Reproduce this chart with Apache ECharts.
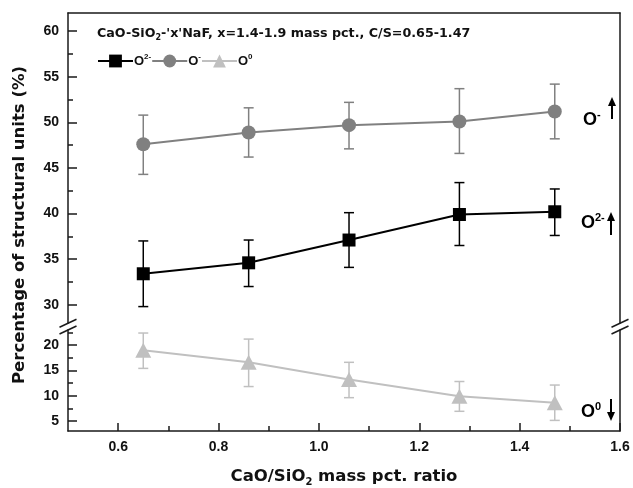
<!DOCTYPE html>
<html>
<head>
<meta charset="utf-8">
<script src="https://cdn.jsdelivr.net/npm/echarts@6/dist/echarts.min.js"></script>
<style>
html,body{margin:0;padding:0;background:#fff;}
#chart{width:633px;height:488px;}
</style>
</head>
<body>
<div id="chart"></div>
<script>
// ---- data ----
const xValues = [0.65, 0.86, 1.06, 1.28, 1.47];

const o2Mean = [33.4, 34.6, 37.1, 39.9, 40.2];
const o2Low  = [29.8, 32.0, 34.1, 36.5, 37.6];
const o2High = [37.0, 37.1, 40.1, 43.4, 42.7];

const o1Mean = [47.6, 48.9, 49.7, 50.1, 51.2];
const o1Low  = [44.3, 46.2, 47.1, 46.6, 48.2];
const o1High = [50.8, 51.6, 52.2, 53.7, 54.2];

const o0Mean = [19.0, 16.6, 13.2, 9.9, 8.6];
const o0Low  = [15.4, 11.8, 9.6, 6.9, 5.1];
const o0High = [22.4, 21.2, 16.6, 12.8, 12.1];

const xTicks = [0.6, 0.8, 1.0, 1.2, 1.4, 1.6];
const xMinorTicks = [0.7, 0.9, 1.1, 1.3, 1.5];
const upperTicks = [30, 35, 40, 45, 50, 55, 60];
const upperMinor = [32.5, 37.5, 42.5, 47.5, 52.5, 57.5];
const lowerTicks = [5, 10, 15, 20];
const lowerMinor = [7.5, 12.5, 17.5, 22.5];

const FONT = "'Liberation Sans', Arial, sans-serif";
const WIDE = "'DejaVu Sans', 'Liberation Sans', sans-serif";
const AX = '#1a1a1a';
const C_O2 = '#000000', C_O1 = '#808080', C_O0 = '#c0c0c0';

const chart = echarts.init(document.getElementById('chart'), null, {renderer: 'canvas'});

function pairs(m){ return xValues.map((x,i)=>[x, m[i]]); }
function errData(lo, hi){ return xValues.map((x,i)=>[x, lo[i], hi[i]]); }
function errRender(color){
  return function(params, api){
    const x = api.value(0);
    const a = api.coord([x, api.value(1)]);
    const b = api.coord([x, api.value(2)]);
    const w = 5;
    const st = {stroke: color, lineWidth: 1.5};
    return {type:'group', children:[
      {type:'line', shape:{x1:a[0],y1:a[1],x2:b[0],y2:b[1]}, style:st},
      {type:'line', shape:{x1:a[0]-w,y1:a[1],x2:a[0]+w,y2:a[1]}, style:st},
      {type:'line', shape:{x1:b[0]-w,y1:b[1],x2:b[0]+w,y2:b[1]}, style:st}
    ]};
  };
}

const lineAx = {show:true, lineStyle:{color:AX, width:1.5}};
function yMain(grid, min, max, ticks){
  return {type:'value', gridIndex:grid, min:min, max:max, position:'left',
    axisLine:lineAx, splitLine:{show:false},
    axisTick:{show:true, inside:true, length:9, lineStyle:{color:AX, width:1.5}, customValues:ticks},
    axisLabel:{show:true, customValues:ticks, margin:9, color:'#111', fontFamily:FONT, fontWeight:'bold', fontSize:14}};
}
function yMinor(grid, min, max, ticks){
  return {type:'value', gridIndex:grid, min:min, max:max, position:'left',
    axisLine:{show:false}, splitLine:{show:false}, axisLabel:{show:false},
    axisTick:{show:true, inside:true, length:5, lineStyle:{color:AX, width:1.5}, customValues:ticks}};
}
function yRight(grid, min, max){
  return {type:'value', gridIndex:grid, min:min, max:max, position:'right',
    axisLine:lineAx, splitLine:{show:false}, axisLabel:{show:false}, axisTick:{show:false}};
}

const supRich = {
  b:{fontFamily:FONT, fontWeight:'bold', fontSize:13, color:'#111', lineHeight:16},
  s:{fontFamily:FONT, fontWeight:'bold', fontSize:8, color:'#111', lineHeight:16, verticalAlign:'top', padding:[0,0,6,0]}
};
const legendNames = {'O2-':'{b|O}{s|2-}', 'O-':'{b|O}{s|-}', 'O0':'{b|O}{s|0}'};

function arrow(x, yTip, yTail){
  const dir = yTail > yTip ? 1 : -1;
  return [
    {type:'line', shape:{x1:x, y1:yTip + dir*6, x2:x, y2:yTail}, style:{stroke:'#000', lineWidth:2}},
    {type:'polygon', shape:{points:[[x, yTip],[x-4, yTip + dir*9],[x+4, yTip + dir*9]]}, style:{fill:'#000'}}
  ];
}
function breakMarks(x){
  return [
    {type:'rect', shape:{x:x-2, y:323.5, width:4, height:6.5}, style:{fill:'#fff'}},
    {type:'line', shape:{x1:x-8.5, y1:327.3, x2:x+8.5, y2:319.3}, style:{stroke:AX, lineWidth:1.5}},
    {type:'line', shape:{x1:x-8.5, y1:334, x2:x+8.5, y2:326}, style:{stroke:AX, lineWidth:1.5}}
  ];
}
function sideLabel(x, y, sup){
  return {type:'text', x:x, y:y, style:{
    text:'{b|O}{s|' + sup + '}', textVerticalAlign:'middle',
    rich:{
      b:{fontFamily:FONT, fontWeight:'bold', fontSize:18, fill:'#000', lineHeight:22},
      s:{fontFamily:FONT, fontWeight:'bold', fontSize:11, fill:'#000', lineHeight:22, verticalAlign:'top', padding:[0,0,9,0]}
    }}};
}

const option = {
  animation:false,
  backgroundColor:'#fff',
  title:{
    text:"{t|CaO-SiO}{sub|2}{t|-'x'NaF, x=1.4-1.9 mass pct., C/S=0.65-1.47}",
    left:97, top:26, padding:0,
    textStyle:{rich:{
      t:{fontFamily:WIDE, fontWeight:'bold', fontSize:12.7, color:'#111', lineHeight:16},
      sub:{fontFamily:WIDE, fontWeight:'bold', fontSize:8, color:'#111', lineHeight:16, verticalAlign:'bottom', padding:[6,0,0,0]}
    }}
  },
  legend:{
    data:['O2-','O-','O0'], left:97, top:53, padding:0,
    itemWidth:35, itemHeight:16, itemGap:0,
    formatter:function(n){ return legendNames[n]; },
    textStyle:{padding:[0,0,0,-4], rich:supRich}
  },
  grid:[
    {left:68, right:13, top:13, height:310},
    {left:68, right:13, top:330, height:102}
  ],
  xAxis:[
    {type:'value', gridIndex:0, min:0.5, max:1.6, position:'top',
      axisLine:lineAx, axisTick:{show:false}, axisLabel:{show:false}, splitLine:{show:false}},
    {type:'value', gridIndex:1, min:0.5, max:1.6, position:'bottom',
      axisLine:lineAx, splitLine:{show:false},
      axisTick:{show:true, inside:true, length:8, lineStyle:{color:AX, width:1.5}, customValues:xTicks},
      axisLabel:{show:true, customValues:xTicks, margin:9, color:'#111', fontFamily:FONT, fontWeight:'bold', fontSize:14,
        formatter:function(v){ return v.toFixed(1); }},
      name:'{t|CaO/SiO}{sub|2}{t| mass pct. ratio}', nameLocation:'middle', nameGap:36,
      nameTextStyle:{rich:{
        t:{fontFamily:WIDE, fontWeight:'bold', fontSize:16.5, color:'#111', lineHeight:20},
        sub:{fontFamily:WIDE, fontWeight:'bold', fontSize:10, color:'#111', lineHeight:20, verticalAlign:'bottom', padding:[7,0,0,0]}
      }}},
    {type:'value', gridIndex:1, min:0.5, max:1.6, position:'bottom',
      axisLine:{show:false}, splitLine:{show:false}, axisLabel:{show:false},
      axisTick:{show:true, inside:true, length:5, lineStyle:{color:AX, width:1.5}, customValues:xMinorTicks}}
  ],
  yAxis:[
    yMain(0, 28, 62, upperTicks),
    yMinor(0, 28, 62, upperMinor),
    yRight(0, 28, 62),
    yMain(1, 3, 23, lowerTicks),
    yMinor(1, 3, 23, lowerMinor),
    yRight(1, 3, 23)
  ],
  series:[
    {type:'custom', name:'errO2', xAxisIndex:0, yAxisIndex:0, data:errData(o2Low, o2High), renderItem:errRender(C_O2), encode:{x:0, y:[1,2]}, z:1, silent:true},
    {type:'custom', name:'errO1', xAxisIndex:0, yAxisIndex:0, data:errData(o1Low, o1High), renderItem:errRender(C_O1), encode:{x:0, y:[1,2]}, z:1, silent:true},
    {type:'custom', name:'errO0', xAxisIndex:1, yAxisIndex:3, data:errData(o0Low, o0High), renderItem:errRender(C_O0), encode:{x:0, y:[1,2]}, z:1, silent:true},
    {type:'line', name:'O2-', xAxisIndex:0, yAxisIndex:0, data:pairs(o2Mean),
      symbol:'rect', symbolSize:13, itemStyle:{color:C_O2}, lineStyle:{color:C_O2, width:2}, z:3},
    {type:'line', name:'O-', xAxisIndex:0, yAxisIndex:0, data:pairs(o1Mean),
      symbol:'circle', symbolSize:14, itemStyle:{color:C_O1}, lineStyle:{color:C_O1, width:2}, z:3},
    {type:'line', name:'O0', xAxisIndex:1, yAxisIndex:3, data:pairs(o0Mean),
      symbol:'triangle', symbolSize:[16,15], itemStyle:{color:C_O0}, lineStyle:{color:C_O0, width:2}, z:3}
  ],
  graphic:[
    {type:'text', x:20, y:225, rotation:Math.PI/2, style:{
      text:'Percentage of structural units (%)', fontFamily:WIDE, fontWeight:'bold', fontSize:16.5, fill:'#111',
      textAlign:'center', textVerticalAlign:'middle'}},
    sideLabel(583, 120, '-'),
    sideLabel(581, 223, '2-'),
    sideLabel(581, 412, '0'),
    ...arrow(612, 97, 119),
    ...arrow(611, 212, 235),
    ...arrow(611, 421, 399),
    ...breakMarks(68),
    ...breakMarks(620)
  ]
};
chart.setOption(option);
</script>
</body>
</html>
